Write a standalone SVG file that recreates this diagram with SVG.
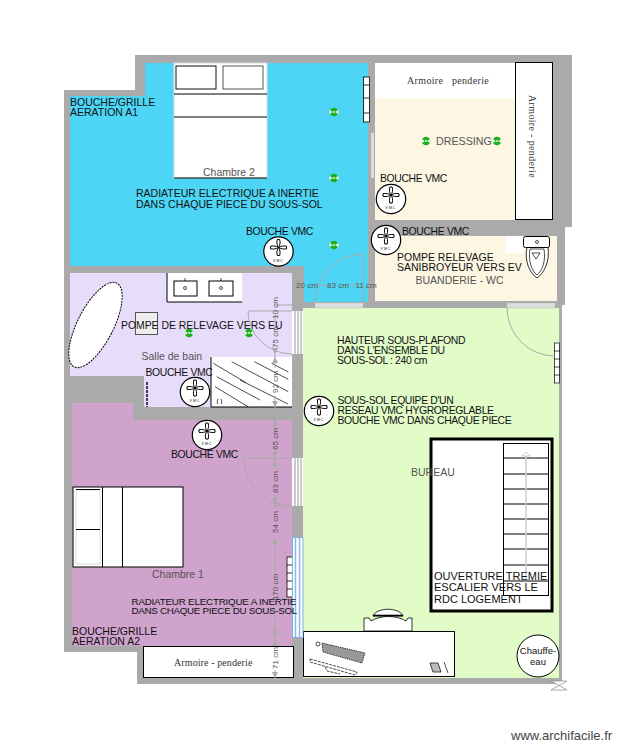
<svg xmlns="http://www.w3.org/2000/svg" width="626" height="750" viewBox="0 0 626 750">
<style>
text{font-family:"Liberation Sans",Arial,sans-serif;font-size:10.5px;fill:#111}
.g{fill:#555}
.s{font-size:10.400px;letter-spacing:-.35px}
.d{font-size:8px;fill:#555;text-anchor:middle}
.a{font-family:"Liberation Serif",serif;font-size:10px;letter-spacing:.35px;fill:#333}
.w{fill:#fff;stroke:#000;stroke-width:1}
.l{fill:none;stroke:#000;stroke-width:1}
.t{fill:none;stroke:#000;stroke-width:.7}
.dim{fill:none;stroke:#aaa;stroke-width:1}
.door{fill:none;stroke:#aaa;stroke-width:1}
.ar{fill:#aaa}
</style>
<defs>
<g id="vmc"><circle r="14.700" fill="#fff" stroke="#000" stroke-width="1.200"/><path d="M-1.200-8C-2-5-1.500-2 0 0 1.500-2 2-5 1.200-8ZM-8-1.300C-5-2-2-1.200 0 0-2 1.200-5 2-8 1.300ZM8-1.300C5-2 2-1.200 0 0 2 1.200 5 2 8 1.300ZM-1.200 8C-2 5-1.500 2 0 0 1.500 2 2 5 1.200 8Z" transform="translate(0 -4)" fill="#fff" stroke="#000" stroke-width="1"/><text y="10" text-anchor="middle" style="font-size:3.500px;letter-spacing:1px">VMC</text></g>
<g id="dot"><circle r="4.300" fill="#1fae1f"/><path d="M-4.500-2.200-1.200 0-4.500 2.200ZM4.500-2.200 1.200 0 4.500 2.200ZM-1-.8H1V.8H-1Z" fill="#e4f8e4"/></g>
</defs>
<rect width="626" height="750" fill="#fff"/>
<path id="walls" fill="#aaa" d="M135 55H572V227H565V305H562V684H137V652H64V90H135Z"/>
<g id="chambre2">
<path fill="#4dd5f5" d="M145 63H368V302H304V266H70V96H145Z"/>
<rect x="174" y="63" width="93" height="115" fill="#fff" stroke="#ddd"/>
<path class="l" d="M174 94H267M174 117H267M174 178H267"/>
<rect x="176" y="66" width="40" height="23" fill="#fff" stroke="#111"/>
<rect x="223" y="66" width="40" height="23" fill="#fff" stroke="#555"/>
<rect x="363.500" y="77" width="6" height="45" fill="#fff" stroke="#000" stroke-width=".8"/>
<path d="M363 85H369M363 98H369M363 113H369" stroke="#000" stroke-width=".8"/>
<rect x="371" y="133" width="3" height="45" fill="#ddd"/>
<use href="#dot" x="334" y="112"/><use href="#dot" x="334" y="178"/><use href="#dot" x="334" y="245"/>
<use href="#vmc" x="278.500" y="251.500"/>
<text class="g" x="203" y="176">Chambre 2</text>
<text x="70" y="106">BOUCHE/GRILLE</text><text x="70" y="116">AERATION A1</text>
<text x="136" y="197">RADIATEUR ELECTRIQUE A INERTIE</text><text x="136" y="208">DANS CHAQUE PIECE DU SOUS-SOL</text>
<text class="s" x="246" y="235">BOUCHE VMC</text>
</g>
<g id="dressing">
<rect x="375" y="63" width="140" height="157" fill="#fcf6e3"/>
<rect x="375" y="63" width="140" height="35" fill="#fff"/>
<rect class="w" x="515.500" y="62.500" width="37" height="157"/>
<text class="a" x="407" y="84" xml:space="preserve">Armoire   penderie</text>
<text class="a" transform="translate(529 95) rotate(90)">Armoire - penderie</text>
<use href="#dot" x="426" y="141"/><use href="#dot" x="497" y="141"/>
<text class="g" x="436" y="145" style="font-size:10.700px">DRESSING</text>
<text class="s" x="380" y="182">BOUCHE VMC</text>
<use href="#vmc" x="391" y="199"/>
</g>
<g id="buanderie">
<rect x="375" y="236" width="182" height="65" fill="#fcf6e3"/>
<rect x="506" y="236" width="17" height="17" fill="#fff"/>
<path d="M527 247C524 262 530 273 537 278 544 273 550 262 548 247Z" fill="#fff" stroke="#000" stroke-width=".8"/>
<path class="t" d="M530 249C528 262 532 271 537 275 542 271 546 262 544 249ZM532 253H540L536 259Z"/>
<rect x="523.500" y="236.500" width="26" height="11" rx="2" fill="#fff" stroke="#000"/>
<circle cx="537" cy="242" r="1.500" class="t"/>
<use href="#vmc" x="386" y="240"/>
<text class="s" x="402" y="235">BOUCHE VMC</text>
<text x="397" y="261">POMPE RELEVAGE</text><text x="397" y="271">SANIBROYEUR VERS EV</text>
<text class="g" x="415.500" y="284">BUANDERIE - WC</text>
</g>
<g id="sdb">
<path fill="#e8dcfb" d="M70 273H292V407H144V376H70Z"/>
<ellipse cx="95.500" cy="325" rx="18" ry="47" transform="rotate(27 95.500 325)" fill="#fff" stroke="#000" stroke-dasharray="2 1"/>
<rect x="167" y="273" width="75" height="29" fill="#fff"/>
<path class="l" d="M167 273V302H242"/>
<rect x="174" y="281" width="23" height="15" fill="#fff" stroke="#000"/>
<rect x="209" y="281" width="24" height="15" fill="#fff" stroke="#000"/>
<circle cx="185" cy="288" r="1.500" class="t"/><circle cx="221" cy="288" r="1.500" class="t"/>
<path class="t" d="M185 278V281M221 278V281"/>
<rect x="135.500" y="312.500" width="22" height="22" fill="#eee" stroke="#555"/>
<rect x="211" y="357" width="81" height="50" fill="#fff"/>
<path class="l" d="M211 357V407H292"/>
<path class="t" d="M213.300 363.300 246 382.700M216.700 376.700 260 400M215 386.700 248 406.700M231.700 361.700 288.300 391.700M254.300 361.700 288.300 379.300M271.700 363.300 288.300 372M240 380 288 404M218 399C217 401 217 403 218 404M221 399C222 401 222 403 221 404"/>
<path d="M147 382V407" fill="none" stroke="#000" stroke-width="1.400" stroke-dasharray="3 1"/>
<use href="#dot" x="189" y="333"/><use href="#dot" x="249" y="333"/>
<use href="#vmc" x="195" y="392"/>
<text x="121" y="329" style="font-size:10.400px">POMPE DE RELEVAGE VERS EU</text>
<text class="g" x="141.500" y="360">Salle de bain</text>
<text class="s" x="145.500" y="376">BOUCHE VMC</text>
</g>
<g id="chambre1">
<path fill="#cfa3cc" d="M72 403H133V420H292V646H72Z"/>
<rect x="73" y="487" width="110" height="80" fill="#fff" stroke="#000"/>
<path class="l" d="M102.500 487V567M122.500 487V567"/>
<rect x="76" y="490" width="24" height="74" fill="#fff" stroke="#ddd"/>
<path class="l" d="M76 489.500H100M76 529.500H100"/>
<rect x="287" y="557" width="5.500" height="40" fill="#fff" stroke="#000" stroke-width=".8"/>
<path d="M287 565H292M287 573H292M287 581H292M287 589H292" stroke="#000" stroke-width=".8"/>
<use href="#vmc" x="207" y="435"/>
<text class="s" x="171" y="458">BOUCHE VMC</text>
<text class="g" x="152" y="578">Chambre 1</text>
<text x="72" y="635">BOUCHE/GRILLE</text><text x="72" y="645">AERATION A2</text>
<rect class="w" x="143.500" y="646.500" width="150" height="31"/>
<text class="a" x="174" y="666" style="letter-spacing:.1px">Armoire - penderie</text>
</g>
<g id="bureau">
<rect x="303" y="308" width="256" height="370" fill="#e2fcc8"/>
<rect x="554.500" y="343" width="5" height="40" fill="#fff" stroke="#000" stroke-width=".7"/>
<path d="M554 351H560M554 359H560M554 367H560M554 375H560" stroke="#000" stroke-width=".7"/>
<rect x="431" y="439" width="121" height="172" fill="#fff" stroke="#000" stroke-width="3"/>
<rect class="w" x="503.500" y="443.500" width="45" height="152"/>
<path class="l" d="M503 458H548M503 474H548M503 489H548M503 504H548M503 519H548M503 534H548M503 549H548M503 565H548M503 581H548"/>
<path d="M526 452V580" stroke="#ccc" stroke-width="1.500"/>
<path d="M526 452 522 456H530Z" fill="#fff" stroke="#aaa" stroke-width=".6"/>
<text class="g" x="411" y="476">BUREAU</text>
<text x="434" y="580" style="font-size:11px">OUVERTURE TREMIE</text><text x="434" y="591" style="font-size:11px">ESCALIER VERS LE</text><text x="434" y="603" style="font-size:11px">RDC LOGEMENT</text>
<path d="M364 631V618H369L371 621C380 615 397 615 406 621L408 618H412V631Z" fill="#fff" stroke="#000" stroke-width=".8"/>
<path d="M373 616C377 607 399 607 403 616Z" fill="#fff" stroke="#000" stroke-width=".8"/>
<path d="M373 615.500H403" stroke="#000" stroke-width="1.600"/>
<rect class="w" x="303.500" y="631.500" width="151" height="45"/>
<path d="M322 643 365 653 362 663 323 652Z" fill="#999" stroke="#000" stroke-width=".7" stroke-dasharray="1.500 .8"/>
<circle cx="318" cy="644" r="2" class="t"/>
<path class="t" d="M310 659 357 672 355 675 310 662ZM325 667 327 671 340 674" stroke-dasharray="3 1"/>
<path d="M430 663H438L441 672H433ZM444 662 448 673" fill="#bbb" stroke="#000" stroke-width=".7"/>
<use href="#vmc" x="319" y="411"/>
<text class="s" x="337" y="344">HAUTEUR SOUS-PLAFOND</text><text class="s" x="337" y="354">DANS L'ENSEMBLE DU</text><text class="s" x="337" y="364">SOUS-SOL : 240 cm</text>
<text class="s" x="337.500" y="404">SOUS-SOL EQUIPE D'UN</text><text class="s" x="337.500" y="414">RESEAU VMC HYGROREGLABLE</text><text class="s" x="337.500" y="423.500">BOUCHE VMC DANS CHAQUE PIECE</text>
<circle cx="538" cy="656" r="21" fill="#fff" stroke="#000"/>
<text x="538" y="654" text-anchor="middle" style="font-size:9.500px">Chauffe-</text><text x="538" y="665" text-anchor="middle" style="font-size:9.500px">eau</text>
</g>
<g id="openings">
<rect x="292" y="311" width="11" height="43" fill="#fff"/><path d="M295 311V354M298 311V354M301 311V354" stroke="#bbb" stroke-width="1.500"/>
<rect x="292" y="458" width="11" height="48" fill="#fff"/><path d="M295 458V506M298 458V506M301 458V506" stroke="#bbb" stroke-width="1.500"/>
<rect x="292.500" y="537.500" width="10.500" height="100" fill="#fff" stroke="#7ab0e6"/><path d="M295.500 538V637M299.500 538V637" stroke="#8ab8e6" stroke-width="1.500"/>
<rect x="315" y="303" width="48" height="5" fill="#ddd" stroke="#bbb" stroke-width=".5"/>
<path class="door" d="M363 254V303M363 254A48 49 0 0 0 315 303"/>
<path class="door" d="M248 311H292M275 305H292M248 311A44 43 0 0 0 292 354"/>
<path class="door" d="M244 458H292M244 458A48 48 0 0 0 292 506H275"/>
<rect x="507" y="303" width="48" height="5" fill="#ddd" stroke="#bbb" stroke-width=".5"/>
<path class="door" d="M507 308A48 48 0 0 0 555 356"/>
</g>
<g id="dims">
<path class="dim" d="M275 315V325M275 352V368M275 396V432M275 452V468M275 496V510M275 538V575M275 605V645M275 670V678M316 285H329M348 285H358"/>
<path class="ar" d="M275 354 272 348H278ZM275 357 272 363H278ZM275 407 272 401H278ZM275 420 272 426H278ZM275 458 272 452H278ZM275 460 272 466H278ZM275 504 272 498H278ZM275 538 272 544H278ZM275 637 272 631H278ZM275 640 272 646H278ZM275 678 272 672H278Z"/>
<text class="d" transform="translate(278 308) rotate(-90)">10 cm</text>
<text class="d" transform="translate(278 337) rotate(-90)">75 cm</text>
<text class="d" transform="translate(278 382) rotate(-90)">92 cm</text>
<text class="d" transform="translate(278 439) rotate(-90)">65 cm</text>
<text class="d" transform="translate(278 482) rotate(-90)">83 cm</text>
<text class="d" transform="translate(278 522) rotate(-90)">54 cm</text>
<text class="d" transform="translate(278 587) rotate(-90)">170 cm</text>
<text class="d" transform="translate(278 658) rotate(-90)">71 cm</text>
<text class="d" x="307" y="288">20 cm</text><text class="d" x="338" y="288">83 cm</text><text class="d" x="366" y="288">11 cm</text>
</g>
<text x="131.500" y="605" style="font-size:9.800px;letter-spacing:-.2px">RADIATEUR ELECTRIQUE A INERTIE</text><text x="131.500" y="614" style="font-size:9.800px;letter-spacing:-.3px">DANS CHAQUE PIECE DU SOUS-SOL</text>
<path id="x" d="M551 681H567L551 690H567Z" fill="#fff" stroke="#888" stroke-width=".7"/>
<text x="511" y="740" style="font-size:13px;fill:#444">www.archifacile.fr</text>
</svg>
